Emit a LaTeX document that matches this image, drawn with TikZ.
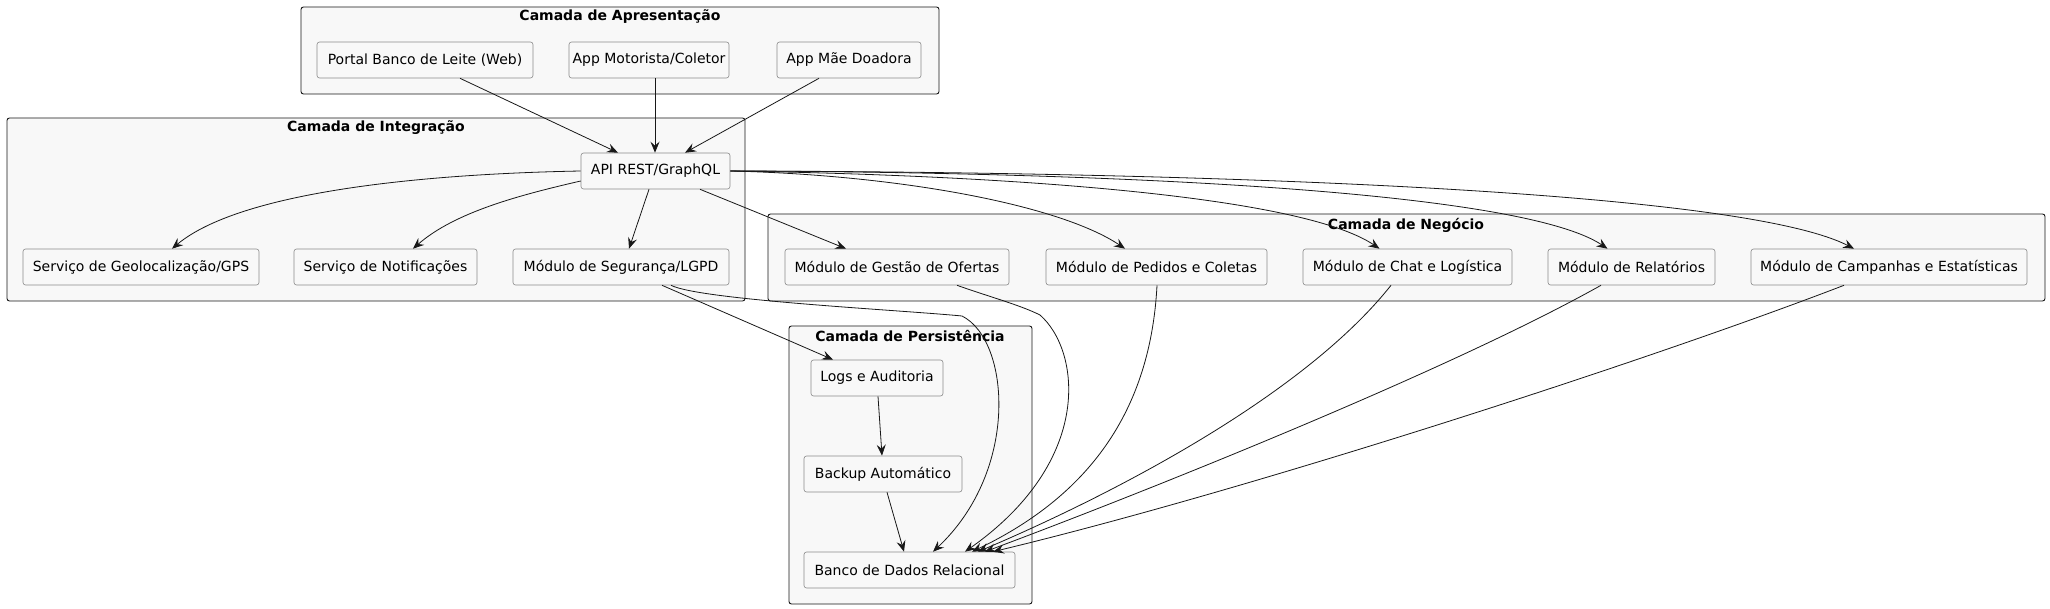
\documentclass[tikz,border=0pt]{standalone}
\usepackage{fontspec}
\setmainfont{DejaVu Sans}
\usetikzlibrary{arrows.meta}
\definecolor{clfill}{HTML}{F8F8F8}
\definecolor{bxline}{HTML}{8A8A8A}
\definecolor{ink}{HTML}{181818}
\tikzset{
  cluster/.style={draw=ink, fill=clfill, rounded corners=2.5pt, line width=0.9pt},
  ctitle/.style={font=\fontsize{14}{16}\selectfont\bfseries, text=black, inner sep=0pt},
  box/.style={draw=bxline, fill=clfill, rounded corners=2.5pt, line width=0.6pt,
    minimum height=36pt, inner sep=0pt, font=\fontsize{14}{16}\selectfont, text=black},
  link/.style={draw=ink, line width=0.8pt, -{Stealth[length=11pt,width=9pt,inset=4pt]}}
}
\begin{document}
\begin{tikzpicture}[x=1pt,y=-1pt]
\useasboundingbox (0,0) rectangle (2050,609);
\fill[white] (0,0) rectangle (2050,609);
% clusters
\draw[cluster] (301,7) rectangle (939,94);
\node[ctitle] (tapres) at (620,17) {Camada de Apresentação};
\draw[cluster] (7,118) rectangle (745,301);
\node[ctitle] (tinteg) at (376,128) {Camada de Integração};
\draw[cluster] (768,214) rectangle (2045,301);
\node[ctitle] (tneg) at (1406,225) {Camada de Negócio};
\draw[cluster] (789,326) rectangle (1032,604);
\node[ctitle] (tpers) at (910,336) {Camada de Persistência};
% nodes
\node[box, minimum width=216pt] (portal) at (425,60) {Portal Banco de Leite (Web)};
\node[box, minimum width=160pt] (motor) at (649,60) {App Motorista/Coletor};
\node[box, minimum width=144pt] (mae) at (849,60) {App Mãe Doadora};
\node[box, minimum width=149pt] (api) at (655.5,171) {API REST/GraphQL};
\node[box, minimum width=236pt] (geo) at (141,267) {Serviço de Geolocalização/GPS};
\node[box, minimum width=183pt] (notif) at (385.5,267) {Serviço de Notificações};
\node[box, minimum width=216pt] (seg) at (621,267) {Módulo de Segurança/LGPD};
\node[box, minimum width=224pt] (ofertas) at (897,267) {Módulo de Gestão de Ofertas};
\node[box, minimum width=221pt] (pedidos) at (1156.5,267) {Módulo de Pedidos e Coletas};
\node[box, minimum width=209pt] (chat) at (1407.5,267) {Módulo de Chat e Logística};
\node[box, minimum width=167pt] (relat) at (1631.5,267) {Módulo de Relatórios};
\node[box, minimum width=276pt] (camp) at (1889,267) {Módulo de Campanhas e Estatísticas};
\node[box, minimum width=132pt] (logs) at (877,378) {Logs e Auditoria};
\node[box, minimum width=158pt] (backup) at (883,474) {Backup Automático};
\node[box, minimum width=211pt] (banco) at (909.5,570) {Banco de Dados Relacional};
% edges: presentation -> api
\draw[link] ([xshift=35pt]portal.south) -- ([xshift=-37.5pt]api.north);
\draw[link] ([xshift=6pt]motor.south) -- ([xshift=-0.5pt]api.north);
\draw[link] ([xshift=-30pt]mae.south) -- ([xshift=29.5pt]api.north);
% api -> integration
\draw[link] (api.west) .. controls (420,174) and (240,192) .. ([xshift=31pt]geo.north);
\draw[link] ([yshift=-10pt]api.west) .. controls (520,195) and (455,212) .. ([xshift=27.5pt]notif.north);
\draw[link] ([xshift=-6.5pt]api.south) -- ([xshift=8pt]seg.north);
% api -> business
\draw[link] ([xshift=44.5pt]api.south) -- ([xshift=-51pt]ofertas.north);
\draw[link] (api.east) .. controls (900,175) and (1060,205) .. ([xshift=-31.5pt]pedidos.north);
\draw[link] (api.east) .. controls (1000,175) and (1300,195) .. ([xshift=-28pt]chat.north);
\draw[link] (api.east) .. controls (1100,172) and (1520,190) .. ([xshift=-24pt]relat.north);
\draw[link] (api.east) .. controls (1200,172) and (1740,190) .. ([xshift=-35pt]camp.north);
% security -> persistence
\draw[link] ([xshift=41pt]seg.south) -- ([xshift=-44pt]logs.north);
\draw[link] ([xshift=50pt]seg.south) .. controls (700,300) and (900,310) .. (962,316)
  .. controls (1010,340) and (1020,470) .. ([xshift=23.5pt]banco.north);
% business -> banco
\draw[link] ([xshift=60pt]ofertas.south) .. controls (990,297) and (1020,305) .. (1040,315)
  .. controls (1080,350) and (1095,460) .. ([xshift=55.5pt]banco.north);
\draw[link] ([xshift=0.5pt]pedidos.south) .. controls (1150,420) and (1080,500) .. ([xshift=62.5pt]banco.north);
\draw[link] ([xshift=-16.5pt]chat.south) .. controls (1300,400) and (1100,500) .. ([xshift=68.5pt]banco.north);
\draw[link] ([xshift=-30.5pt]relat.south) .. controls (1450,370) and (1150,490) .. ([xshift=75.5pt]banco.north);
\draw[link] ([xshift=-45pt]camp.south) .. controls (1650,360) and (1250,490) .. ([xshift=83.5pt]banco.north);
% persistence chain
\draw[link] ([xshift=1pt]logs.south) -- ([xshift=-1pt]backup.north);
\draw[link] ([xshift=4pt]backup.south) -- ([xshift=-5.5pt]banco.north);
\end{tikzpicture}
\end{document}
